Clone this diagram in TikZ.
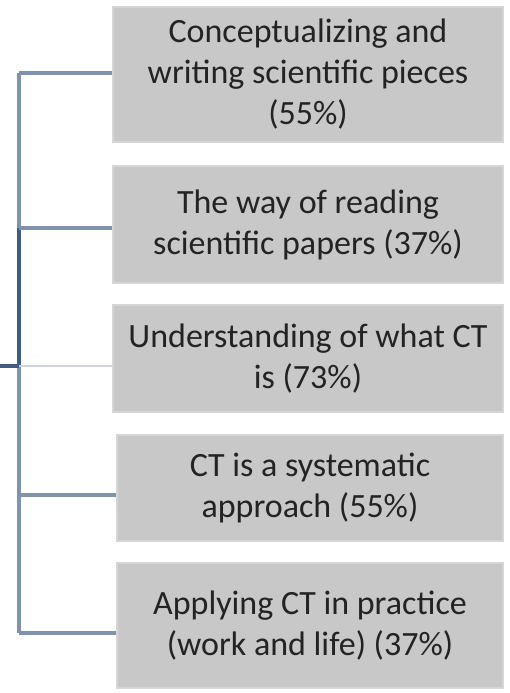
\documentclass[tikz,border=0pt]{standalone}
\usepackage{fontspec}
\setmainfont{Carlito}
\definecolor{boxfill}{RGB}{200,200,200}
\definecolor{boxedge}{RGB}{214,214,214}
\definecolor{linelight}{RGB}{128,146,172}
\definecolor{linedark}{RGB}{62,92,132}
\definecolor{txt}{RGB}{35,35,35}
\begin{document}
\begin{tikzpicture}[x=1pt,y=-1pt,
  itembox/.style={draw=boxedge, line width=2pt, fill=boxfill, inner sep=0pt,
    minimum width=390pt, align=center, text=txt,
    font=\fontsize{34}{41}\selectfont},
  conn/.style={draw=linelight, line width=3.5pt},
  connd/.style={draw=linedark, line width=3.5pt}]
\useasboundingbox (0,0) rectangle (510,693);
\fill[white] (0,0) rectangle (510,693);
\node[itembox, minimum height=135pt] (b1) at (308,74.5) {Conceptualizing and\\writing scientific pieces\\(55\%)};
\node[itembox, minimum height=117pt] (b2) at (308,224.5) {The way of reading\\scientific papers (37\%)};
\node[itembox, minimum height=107pt] (b3) at (308,358.5) {Understanding of what CT\\is (73\%)};
\node[itembox, minimum height=106pt, minimum width=386pt] (b4) at (310,488) {CT is a systematic\\approach (55\%)};
\node[itembox, minimum height=125pt, minimum width=386pt] (b5) at (310,625.5) {Applying CT in practice\\(work and life) (37\%)};
\coordinate (root) at (0,366);
\coordinate (trunk) at (19,366);
\coordinate (t1) at (19,73);
\coordinate (t2) at (19,228);
\coordinate (t4) at (19,495);
\coordinate (t5) at (19,633);
\draw[conn] (t1) -- (t2);
\draw[connd] (t2) -- (trunk);
\draw[conn] (trunk) -- (t5);
\draw[conn] (t1) -- (b1.west |- t1);
\draw[conn] (t2) -- (b2.west |- t2);
\draw[conn, draw=linelight!40, line width=2pt] (trunk) -- (b3.west |- trunk);
\draw[conn] (t4) -- (b4.west |- t4);
\draw[conn] (t5) -- (b5.west |- t5);
\draw[connd] (root) -- (trunk);
\end{tikzpicture}
\end{document}
